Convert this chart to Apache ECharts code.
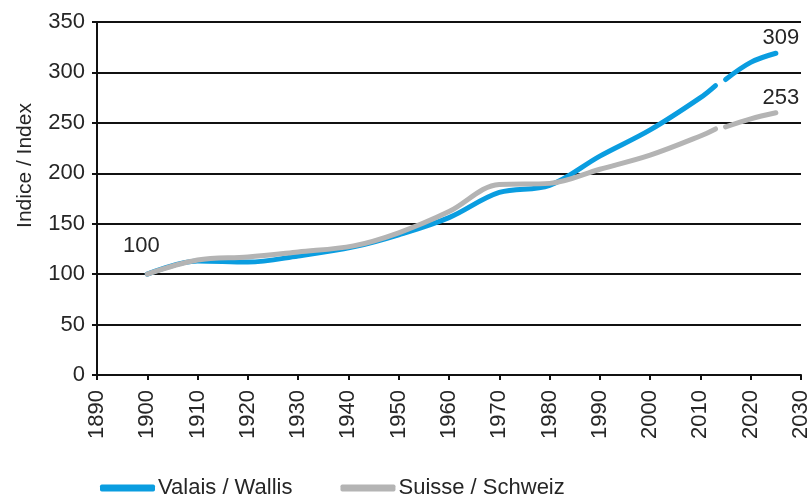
<!DOCTYPE html>
<html>
<head>
<meta charset="utf-8">
<script src="https://cdn.jsdelivr.net/npm/echarts@6/dist/echarts.min.js"></script>
<style>
html,body{margin:0;padding:0;background:#fff;}
#chart{width:812px;height:500px;}
</style>
</head>
<body>
<div id="chart"></div>
<script>
// Data
var seriesNames = ['Valais / Wallis', 'Suisse / Schweiz'];
var valaisYears  = [1900, 1910, 1920, 1930, 1941, 1950, 1960, 1970, 1980, 1990, 2000, 2010, 2013, 2014, 2015, 2020, 2025];
var valaisValues = [100, 113, 112, 118, 127, 139, 156, 181, 188, 217, 243, 275, 287, null, 293, 310, 319];
var suisseYears  = [1900, 1910, 1920, 1930, 1941, 1950, 1960, 1970, 1980, 1990, 2000, 2010, 2013, 2014, 2015, 2020, 2025];
var suisseValues = [100, 114, 117, 122, 128, 141, 162, 189, 190, 204, 218, 237, 244, null, 246, 254, 260];
var startLabel = '100';
var valaisEndLabel = '309';
var suisseEndLabel = '253';
var yTicks = [0, 50, 100, 150, 200, 250, 300, 350];
var xTicks = [1890, 1900, 1910, 1920, 1930, 1940, 1950, 1960, 1970, 1980, 1990, 2000, 2010, 2020, 2030];

var FONT = 'Arial, "Liberation Sans", sans-serif';
var TXT = '#262626';

function build(years, values, endText, withStart) {
  return years.map(function (y, i) {
    var v = values[i];
    var item = { value: [y, v === null ? '-' : v] };
    if (i === years.length - 1) {
      item.label = { show: true, position: 'top', offset: [5, 1], formatter: endText };
    }
    if (withStart && i === 0) {
      item.label = { show: true, position: 'top', offset: [-6, -12], formatter: startLabel };
    }
    return item;
  });
}

var chart = echarts.init(document.getElementById('chart'), null, { renderer: 'canvas' });
chart.setOption({
  animation: false,
  backgroundColor: '#ffffff',
  textStyle: { fontFamily: FONT },
  grid: { left: 97, right: 5, top: 22, bottom: 125, containLabel: false },
  legend: {
    left: 100, top: 477, padding: 0,
    itemWidth: 55, itemHeight: 7, itemGap: 48,
    icon: 'roundRect',
    textStyle: { fontFamily: FONT, fontSize: 22, color: TXT, padding: [0, 0, 0, -2] },
    data: seriesNames
  },
  xAxis: {
    type: 'value',
    min: xTicks[0], max: xTicks[xTicks.length - 1], interval: 10,
    axisLine: { show: true, lineStyle: { color: '#111', width: 2 } },
    axisTick: { show: true, length: 5, lineStyle: { color: '#111', width: 2 } },
    splitLine: { show: false },
    axisLabel: { rotate: 90, margin: 15, fontSize: 22, color: TXT, fontFamily: FONT, formatter: function (v) { return String(v); } }
  },
  yAxis: {
    type: 'value',
    min: yTicks[0], max: yTicks[yTicks.length - 1], interval: 50,
    name: 'Indice / Index', nameLocation: 'middle', nameGap: 61, nameRotate: 90,
    nameTextStyle: { fontSize: 21, color: TXT, fontFamily: FONT, padding: [0, 0, 0, 66] },
    axisLine: { show: true, lineStyle: { color: '#111', width: 2 } },
    axisTick: { show: true, length: 5, lineStyle: { color: '#111', width: 2 } },
    splitLine: { show: true, lineStyle: { color: '#111', width: 2 } },
    axisLabel: { margin: 12, fontSize: 22, color: TXT, fontFamily: FONT }
  },
  series: [
    {
      name: seriesNames[0], type: 'line', smooth: 0.35,
      showSymbol: true, symbol: 'circle', symbolSize: 0, connectNulls: false, z: 2,
      lineStyle: { color: '#0a9de0', width: 5, cap: 'round' },
      itemStyle: { color: '#0a9de0' },
      label: { fontSize: 22, color: TXT, fontFamily: FONT },
      data: build(valaisYears, valaisValues, valaisEndLabel, true)
    },
    {
      name: seriesNames[1], type: 'line', smooth: 0.35,
      showSymbol: true, symbol: 'circle', symbolSize: 0, connectNulls: false, z: 3,
      lineStyle: { color: '#b4b4b4', width: 5, cap: 'round' },
      itemStyle: { color: '#b4b4b4' },
      label: { fontSize: 22, color: TXT, fontFamily: FONT },
      data: build(suisseYears, suisseValues, suisseEndLabel, false)
    }
  ]
});
</script>
</body>
</html>
